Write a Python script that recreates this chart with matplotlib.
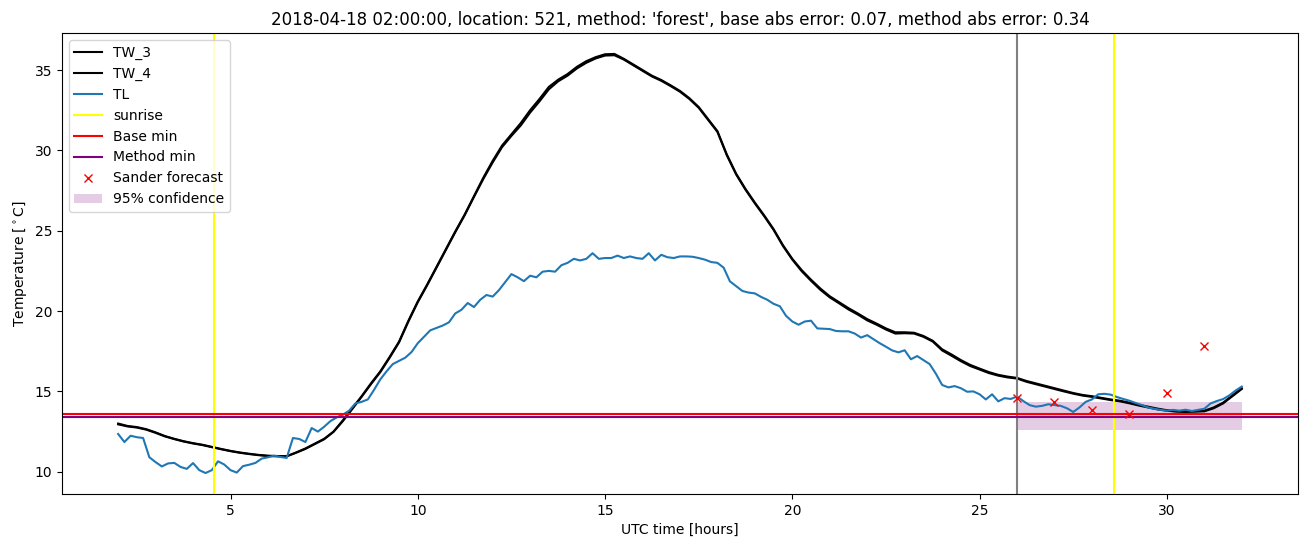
import numpy as np
import matplotlib.pyplot as plt

# water temperature, 15 min steps from 02:00 to 32:00
tw3 = [13.0, 12.85, 12.78, 12.65, 12.45, 12.22, 12.05, 11.9,
       11.78, 11.68, 11.55, 11.42, 11.3, 11.2, 11.12, 11.05,
       11.0, 10.98, 10.97, 11.2, 11.45, 11.75, 12.05, 12.5,
       13.2, 13.95, 14.7, 15.5, 16.25, 17.15, 18.1, 19.4,
       20.6, 21.65, 22.75, 23.85, 24.95, 26.0, 27.15, 28.3,
       29.35, 30.3, 31.0, 31.7, 32.5, 33.2, 33.95, 34.4,
       34.75, 35.2, 35.55, 35.8, 35.98, 36.0, 35.7, 35.35,
       35.0, 34.65, 34.38, 34.05, 33.7, 33.25, 32.7, 31.95,
       31.2, 29.75, 28.55, 27.6, 26.75, 25.95, 25.1, 24.1,
       23.25, 22.55, 21.95, 21.4, 20.92, 20.55, 20.18, 19.85,
       19.5, 19.22, 18.92, 18.68, 18.68, 18.65, 18.45, 18.15,
       17.62, 17.3, 16.95, 16.65, 16.42, 16.2, 16.03, 15.92,
       15.84, 15.65, 15.5, 15.35, 15.2, 15.05, 14.9, 14.78,
       14.7, 14.6, 14.5, 14.42, 14.3, 14.17, 14.05, 13.93,
       13.83, 13.78, 13.76, 13.77, 13.8, 14.0, 14.3, 14.75,
       15.2]
tw4 = [12.95, 12.82, 12.75, 12.62, 12.42, 12.2, 12.03, 11.88,
       11.76, 11.66, 11.53, 11.4, 11.28, 11.18, 11.1, 11.03,
       10.98, 10.96, 10.96, 11.18, 11.42, 11.72, 12.02, 12.48,
       13.15, 13.9, 14.66, 15.45, 16.2, 17.1, 18.05, 19.35,
       20.55, 21.6, 22.7, 23.8, 24.9, 25.95, 27.1, 28.22,
       29.25, 30.2, 30.9, 31.55, 32.35, 33.05, 33.8, 34.3,
       34.65, 35.1, 35.45, 35.72, 35.9, 35.92, 35.65, 35.3,
       34.95, 34.6, 34.33, 34.0, 33.65, 33.2, 32.65, 31.9,
       31.15, 29.7, 28.5, 27.55, 26.7, 25.9, 25.05, 24.05,
       23.2, 22.48, 21.88, 21.32, 20.85, 20.48, 20.1, 19.78,
       19.42, 19.15, 18.85, 18.6, 18.62, 18.6, 18.4, 18.1,
       17.55, 17.22, 16.88, 16.58, 16.36, 16.14, 15.98, 15.87,
       15.8, 15.6, 15.45, 15.3, 15.15, 15.0, 14.86, 14.74,
       14.66, 14.56, 14.46, 14.38, 14.26, 14.12, 14.0, 13.88,
       13.8, 13.74, 13.72, 13.74, 13.76, 13.95, 14.25, 14.7,
       15.15]

# air temperature, 10 min steps, one row per hour
tl = [12.35, 11.85, 12.24, 12.15, 12.1, 10.9,        # 2
      10.6, 10.33, 10.52, 10.55, 10.3, 10.18,         # 3
      10.54, 10.1, 9.92, 10.1, 10.65, 10.45,          # 4
      10.1, 9.95, 10.35, 10.44, 10.55, 10.82,         # 5
      10.9, 11.0, 10.92, 10.86, 12.1, 12.04,          # 6
      11.85, 12.72, 12.5, 12.8, 13.15, 13.38,         # 7
      13.55, 13.8, 14.25, 14.35, 14.5, 15.1,          # 8
      15.75, 16.25, 16.7, 16.9, 17.1, 17.45,          # 9
      18.0, 18.4, 18.8, 18.95, 19.1, 19.3,            # 10
      19.85, 20.08, 20.5, 20.25, 20.7, 21.0,          # 11
      20.9, 21.3, 21.8, 22.3, 22.1, 21.86,            # 12
      22.2, 22.1, 22.45, 22.5, 22.45, 22.85,          # 13
      23.0, 23.25, 23.15, 23.25, 23.6, 23.25,         # 14
      23.3, 23.3, 23.45, 23.3, 23.4, 23.3,            # 15
      23.25, 23.6, 23.15, 23.5, 23.35, 23.3,          # 16
      23.4, 23.4, 23.38, 23.3, 23.2, 23.05,           # 17
      23.0, 22.7, 21.85, 21.55, 21.25, 21.15,         # 18
      21.1, 20.88, 20.7, 20.45, 20.3, 19.7,           # 19
      19.35, 19.15, 19.35, 19.4, 18.92, 18.9,         # 20
      18.88, 18.76, 18.74, 18.74, 18.6, 18.35,        # 21
      18.5, 18.25, 18.0, 17.78, 17.55, 17.43,         # 22
      17.56, 17.0, 17.2, 16.95, 16.7, 16.1,           # 23
      15.4, 15.25, 15.33, 15.2, 14.98, 15.0,          # 24
      14.82, 14.5, 14.82, 14.38, 14.58, 14.53,        # 25
      14.68, 14.4, 14.15, 14.05, 14.1, 14.2,          # 26
      14.15, 14.1, 13.95, 13.72, 14.0, 14.35,         # 27
      14.5, 14.82, 14.85, 14.8, 14.65, 14.53,         # 28
      14.42, 14.28, 14.15, 14.0, 13.92, 13.85,        # 29
      13.8, 13.85, 13.8, 13.86, 13.78, 13.85,         # 30
      13.92, 14.25, 14.4, 14.52, 14.75, 15.05,        # 31
      15.3]                                           # 32

t_tw = 2 + 0.25 * np.arange(len(tw3))
t_tl = 2 + np.arange(len(tl)) / 6

sunrise = [4.57, 28.59]
forecast_start = 26.0
base_min = 13.62
method_min = 13.40
conf_lo, conf_hi = 12.6, 14.32
conf_t = [26.0, 32.0]

sander_t = [26, 27, 28, 29, 30, 31]
sander_v = [14.6, 14.37, 13.86, 13.6, 14.92, 17.85]

fig, ax = plt.subplots(figsize=(13.1, 5.47), dpi=100)
fig.subplots_adjust(left=0.0473, right=0.9908, top=0.9397, bottom=0.0969)

ax.plot(t_tw, tw3, color='black', label='TW_3')
ax.plot(t_tw, tw4, color='black', label='TW_4')
ax.plot(t_tl, tl, color='C0', label='TL')
for i, s in enumerate(sunrise):
    ax.axvline(s, color='yellow', label='sunrise' if i == 0 else None)
ax.axvline(forecast_start, color='gray')
ax.axhline(base_min, color='red', label='Base min')
ax.axhline(method_min, color='purple', label='Method min')
ax.plot(sander_t, sander_v, 'x', color='red', label='Sander forecast')
ax.fill_between(conf_t, conf_lo, conf_hi, color='purple', alpha=0.2,
                linewidth=0, label='95% confidence')

ax.set_title("2018-04-18 02:00:00, location: 521, method: 'forest', "
             "base abs error: 0.07, method abs error: 0.34")
ax.set_xlabel('UTC time [hours]')
ax.set_ylabel(r'Temperature [$^\circ$C]')
ax.legend(loc='upper left')

fig.savefig('out.png')
